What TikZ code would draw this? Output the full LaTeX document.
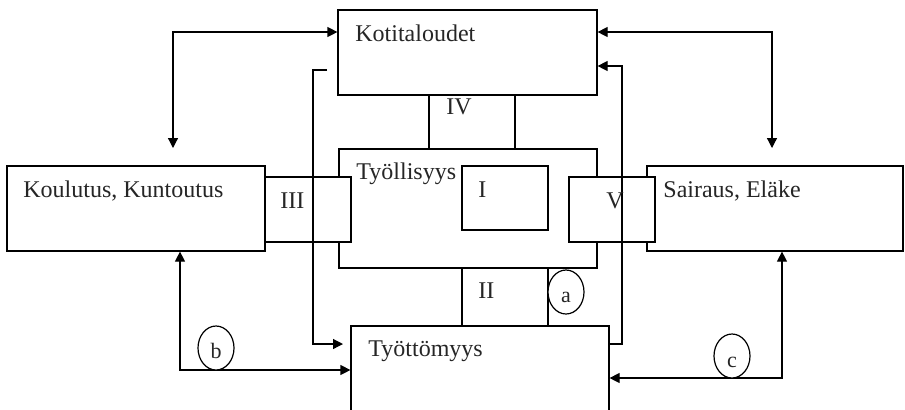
\documentclass[tikz,border=0pt]{standalone}
\usepackage{fontspec}
\setmainfont{Liberation Serif}
\usetikzlibrary{arrows.meta,fit,shapes.geometric}
\begin{document}
\begin{tikzpicture}[x=0.5pt,y=-0.5pt,
  box/.style={draw, fill=white, line width=0.6pt, inner sep=0pt},
  lbl/.style={anchor=base west, inner sep=0pt, font=\fontsize{12}{14}\selectfont, text=black!85},
  clbl/.style={anchor=base, inner sep=0pt, font=\fontsize{11}{13}\selectfont, text=black!85},
  conn/.style={line width=0.6pt},
  tip/.style={-{Triangle[length=5pt,width=5pt]}},
  dbl/.style={{Triangle[length=5pt,width=5pt]}-{Triangle[length=5pt,width=5pt]}},
  oval/.style={draw, fill=white, ellipse, line width=0.6pt, inner sep=0pt, minimum width=18pt, minimum height=22pt}
]
\useasboundingbox (0,0) rectangle (905,409);

% main boxes
\node[box, fit={(338,10) (597,95)}] (kot) {};
\node[box, fit={(339,149) (597,268)}] (tyol) {};
\node[box, fit={(7,166) (265,251)}] (kou) {};
\node[box, fit={(647,166) (903,251)}] (sai) {};
\node[box, fit={(351,326) (609,416)}] (tyot) {};
% small boxes
\node[box, fit={(429,95) (515,149)}] (iv) {};
\node[box, fit={(462,268) (548,326)}] (ii) {};
\node[box, fit={(462,166) (548,230)}] (i) {};
\node[box, fit={(265,177) (351,242)}] (iii) {};
\node[box, fit={(569,177) (655,242)}] (v) {};

% coordinates
\coordinate (tl) at (173,32);
\coordinate (tlTip) at (173,148);
\coordinate (tr) at (772,32);
\coordinate (trTip) at (772,148);
\coordinate (lTop) at (327,70);
\coordinate (lCorner) at (313,70);
\coordinate (lBot) at (313,344);
\coordinate (rTop) at (622,66);
\coordinate (rBot) at (622,344);
\coordinate (bl) at (180,370);
\coordinate (br) at (782,378);

% connectors
\draw[conn,dbl] (tlTip) -- (tl) -- (kot.west |- tl);
\draw[conn,dbl] (kot.east |- tr) -- (tr) -- (trTip);
\draw[conn,tip] (lTop) -- (lCorner) -- (lBot) -- (343,344);
\draw[conn,tip] (tyot.east |- rBot) -- (rBot) -- (rTop) -- (kot.east |- rTop);
\draw[conn,dbl] (kou.south -| bl) -- (bl) -- (tyot.west |- bl);
\draw[conn,dbl] (sai.south -| br) -- (br) -- (tyot.east |- br);

% ovals
\node[oval] (oa) at (566,292) {};
\node[oval] (ob) at (216,348) {};
\node[oval] (oc) at (732,356) {};

% labels
\node[lbl] (tkot) at (355,41) {Kotitaloudet};
\node[lbl] (tkou) at (23,197) {Koulutus, Kuntoutus};
\node[lbl] (ttyol) at (356,179) {Työllisyys};
\node[lbl] (tsai) at (663,197) {Sairaus, Eläke};
\node[lbl] (ttyot) at (368,356) {Työttömyys};
\node[lbl] (ti) at (478,197) {I};
\node[lbl] (tii) at (478,298) {II};
\node[lbl] (tiii) at (280,208) {III};
\node[lbl] (tiv) at (446,114) {IV};
\node[lbl] (tv) at (606,208) {V};
\node[clbl] (ta) at (566,302) {a};
\node[clbl] (tb) at (216,358) {b};
\node[clbl] (tc) at (732,367) {c};
\end{tikzpicture}
\end{document}
